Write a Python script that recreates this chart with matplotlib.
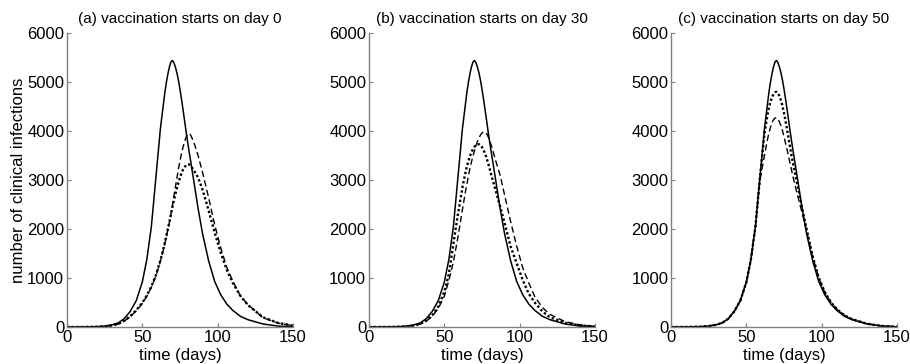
"""Clinical infections over time for three vaccination start days."""
import matplotlib.pyplot as plt

plt.rcParams["font.family"] = ["Liberation Sans", "DejaVu Sans"]

# shared sampling days
days = [0, 10, 20, 25, 30, 34, 38, 42, 46, 50, 53, 56, 59, 62,
        64, 65, 66, 67, 68, 69, 70, 71, 72, 73, 74, 75, 76, 77, 78, 79, 80, 81, 82,
        84, 87, 90, 94, 98, 102, 106, 110, 115, 120, 130, 140, 150]

# no vaccination (solid, same in every panel)
no_vacc = [0, 2, 8, 20, 45, 85, 170, 320, 540, 920, 1380, 2050, 3050, 4050,
           4550, 4800, 5000, 5170, 5310, 5410, 5440, 5390, 5300, 5180, 5030, 4850, 4650, 4440, 4220, 4000, 3790, 3590, 3400,
           3010, 2420, 1900, 1350, 930, 660, 470, 340, 220, 150, 62, 20, 5]

# (a) vaccination starts on day 0
a_dashed = [0, 1, 5, 12, 30, 60, 120, 210, 330, 480, 630, 810, 1040, 1340,
            1580, 1710, 1850, 1990, 2140, 2310, 2490, 2680, 2870, 3050, 3230, 3390, 3540, 3670, 3780, 3870, 3930, 3950, 3920,
            3790, 3500, 3150, 2640, 2090, 1620, 1220, 940, 640, 460, 190, 80, 25]
a_dotted = [0, 1, 5, 13, 32, 65, 130, 220, 345, 495, 645, 825, 1060, 1360,
            1600, 1730, 1870, 2010, 2150, 2300, 2450, 2590, 2720, 2840, 2950, 3050, 3140, 3210, 3260, 3300, 3320, 3320, 3290,
            3210, 3050, 2800, 2380, 1930, 1520, 1170, 900, 640, 450, 200, 85, 28]

# (b) vaccination starts on day 30
b_dashed = [0, 1, 5, 12, 30, 60, 120, 220, 380, 630, 950, 1330, 1830, 2400,
            2760, 2930, 3090, 3240, 3370, 3490, 3600, 3700, 3790, 3860, 3920, 3960, 3985, 3980, 3950, 3890, 3810, 3720, 3620,
            3400, 3100, 2690, 2150, 1650, 1210, 900, 620, 400, 260, 110, 45, 15]
b_dotted = [0, 1, 5, 13, 32, 65, 130, 240, 420, 720, 1080, 1700, 2300, 2850,
            3150, 3280, 3390, 3490, 3570, 3630, 3680, 3710, 3730, 3730, 3710, 3670, 3610, 3540, 3450, 3350, 3240, 3120, 3010,
            2790, 2460, 2120, 1640, 1300, 960, 680, 500, 320, 200, 85, 32, 10]

# (c) vaccination starts on day 50
c_dashed = [0, 2, 8, 20, 45, 85, 170, 320, 540, 920, 1380, 2050, 3000, 3500,
            3830, 3960, 4080, 4170, 4230, 4265, 4270, 4240, 4180, 4100, 4000, 3880, 3750, 3620, 3480, 3340, 3200, 3060, 2930,
            2680, 2330, 1960, 1430, 1000, 710, 505, 365, 240, 162, 67, 22, 6]
c_dotted = [0, 2, 8, 20, 45, 85, 170, 320, 540, 920, 1380, 2050, 3050, 3950,
            4330, 4480, 4600, 4690, 4750, 4790, 4800, 4770, 4710, 4620, 4500, 4360, 4200, 4030, 3850, 3670, 3490, 3330, 3180,
            2880, 2420, 1990, 1440, 1010, 715, 508, 366, 240, 162, 67, 22, 6]

titles = ["(a) vaccination starts on day 0",
          "(b) vaccination starts on day 30",
          "(c) vaccination starts on day 50"]
panels = [(a_dashed, a_dotted), (b_dashed, b_dotted), (c_dashed, c_dotted)]

fig = plt.figure(figsize=(9.1, 3.64), dpi=100)
lefts = [0.0736, 0.4055, 0.7374]
for i, (left, title, (dashed, dotted)) in enumerate(zip(lefts, titles, panels)):
    ax = fig.add_axes([left, 0.1016, 0.2484, 0.8077])
    ax.plot(days, no_vacc, color="black", lw=1.1, ls="-")
    ax.plot(days, dashed, color="black", lw=1.0, ls=(0, (4.5, 2.5)))
    ax.plot(days, dotted, color="black", lw=1.7, ls=(0, (1, 1)))
    ax.set_xlim(0, 150)
    ax.set_ylim(0, 6000)
    ax.set_xticks([0, 50, 100, 150])
    ax.set_yticks(range(0, 6001, 1000))
    for side in ("top", "right"):
        ax.spines[side].set_visible(False)
    for side in ("left", "bottom"):
        ax.spines[side].set_color("#808080")
        ax.spines[side].set_linewidth(1.0)
    ax.tick_params(direction="in", length=3, color="#808080", labelsize=12, pad=2)
    ax.set_xlabel("time (days)", fontsize=12, labelpad=2)
    ax.set_title(title, fontsize=11, pad=7)
    if i == 0:
        ax.set_ylabel("number of clinical infections", fontsize=12, labelpad=1)

fig.savefig("out.png", dpi=100)
